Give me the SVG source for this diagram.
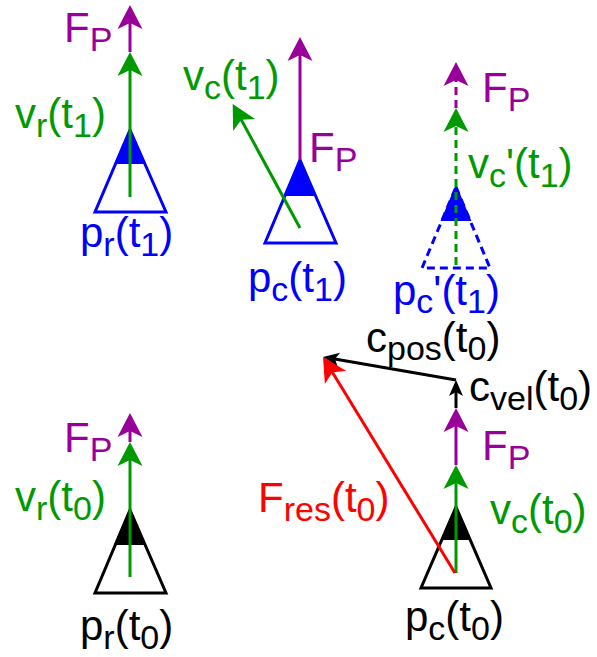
<svg xmlns="http://www.w3.org/2000/svg" width="597" height="657" viewBox="0 0 597 657">
<style>
text{font-family:"Liberation Sans",Arial,sans-serif;font-size:42px}
.sub{font-size:34px}
.g{fill:#009900}.p{fill:#990099}.b{fill:#0000ff}.k{fill:#000}.r{fill:#ff0000}
.ln{fill:none;stroke-width:3}
.dash{stroke-dasharray:8 5}
</style>
<defs>
<marker id="ag" markerUnits="userSpaceOnUse" viewBox="-26 -13 28 26" markerWidth="28" markerHeight="26" refX="-8" refY="0" orient="auto"><path d="M0,0 L-24,-12.5 L-18,0 L-24,12.5 Z" fill="#009900"/></marker>
<marker id="ap" markerUnits="userSpaceOnUse" viewBox="-26 -13 28 26" markerWidth="28" markerHeight="26" refX="-8" refY="0" orient="auto"><path d="M0,0 L-24,-12.5 L-18,0 L-24,12.5 Z" fill="#990099"/></marker>
<marker id="ar" markerUnits="userSpaceOnUse" viewBox="-26 -13 28 26" markerWidth="28" markerHeight="26" refX="-8" refY="0" orient="auto"><path d="M0,0 L-24,-12.5 L-18,0 L-24,12.5 Z" fill="#ff0000"/></marker>
<marker id="ak" markerUnits="userSpaceOnUse" viewBox="-18 -8 20 16" markerWidth="20" markerHeight="16" refX="-6" refY="0" orient="auto"><path d="M0,0 L-16,-7 L-12,0 L-16,7 Z" fill="#000"/></marker>
</defs>

<g id="robot-r-t1">
<polygon points="130,130 166,212 95,212" class="ln" stroke="#0000ff"/>
<polygon points="130,130 144.3,163 115.7,163" fill="#0000ff" stroke="#0000ff" stroke-width="2"/>
<text x="80" y="247" class="b">p<tspan class="sub" dy="9">r</tspan><tspan dy="-9">(t</tspan><tspan class="sub" dy="9">1</tspan><tspan dy="-9">)</tspan></text>
</g>

<g id="robot-c-t1">
<polygon points="300,160 336,243 265,243" class="ln" stroke="#0000ff"/>
<polygon points="300,160 314.8,195 285.2,195" fill="#0000ff" stroke="#0000ff" stroke-width="2"/>
<text x="248" y="292" class="b">p<tspan class="sub" dy="9">c</tspan><tspan dy="-9">(t</tspan><tspan class="sub" dy="9">1</tspan><tspan dy="-9">)</tspan></text>
</g>

<g id="robot-c-prime-t1">
<polygon points="456,187 490,268 422,268" class="ln dash" stroke="#0000ff"/>
<polygon points="456,187 469.9,220 442.1,220" fill="#0000ff" stroke="#0000ff" stroke-width="2"/>
<text x="393" y="305" class="b">p<tspan class="sub" dy="8">c</tspan><tspan dy="-8">'(t</tspan><tspan class="sub" dy="8">1</tspan><tspan dy="-8">)</tspan></text>
</g>

<g id="robot-r-t0">
<polygon points="130,510 166,593 95,593" class="ln" stroke="#000"/>
<polygon points="130,510 144.5,544 115.5,544" fill="#000" stroke="#000" stroke-width="2"/>
<text x="80" y="640" class="k">p<tspan class="sub" dy="9">r</tspan><tspan dy="-9">(t</tspan><tspan class="sub" dy="9">0</tspan><tspan dy="-9">)</tspan></text>
</g>

<g id="robot-c-t0">
<polygon points="456,507 491,588 421,588" class="ln" stroke="#000"/>
<polygon points="456,507 469.8,539 442.2,539" fill="#000" stroke="#000" stroke-width="2"/>
<text x="405" y="631" class="k">p<tspan class="sub" dy="9">c</tspan><tspan dy="-9">(t</tspan><tspan class="sub" dy="9">0</tspan><tspan dy="-9">)</tspan></text>
</g>

<g id="connectors">
<line x1="130" y1="52" x2="130" y2="13" class="ln" stroke="#990099" marker-end="url(#ap)"/>
<line x1="130" y1="197" x2="130" y2="60" class="ln" stroke="#009900" marker-end="url(#ag)"/>
<line x1="300" y1="160" x2="300" y2="45" class="ln" stroke="#990099" marker-end="url(#ap)"/>
<line x1="300" y1="228" x2="236.5" y2="111" class="ln" stroke="#009900" marker-end="url(#ag)"/>
<line x1="456" y1="108" x2="456" y2="70" class="ln dash" stroke="#990099" marker-end="url(#ap)"/>
<line x1="456" y1="265" x2="456" y2="116" class="ln dash" stroke="#009900" marker-end="url(#ag)"/>
<line x1="130" y1="442" x2="130" y2="421" class="ln" stroke="#990099" marker-end="url(#ap)"/>
<line x1="130" y1="577" x2="130" y2="450" class="ln" stroke="#009900" marker-end="url(#ag)"/>
<line x1="456" y1="465" x2="456" y2="416" class="ln" stroke="#990099" marker-end="url(#ap)"/>
<line x1="456" y1="573" x2="456" y2="473" class="ln" stroke="#009900" marker-end="url(#ag)"/>
<line x1="456" y1="408" x2="456" y2="386" class="ln" stroke="#000" marker-end="url(#ak)"/>
<line x1="456" y1="380" x2="329" y2="358" class="ln" stroke="#000" marker-end="url(#ak)"/>
<line x1="455" y1="573" x2="327.2" y2="363.8" class="ln" stroke="#ff0000" marker-end="url(#ar)"/>
</g>

<g id="labels">
<text x="64" y="42" class="p">F<tspan class="sub" dy="9">P</tspan></text>
<text x="15" y="128" class="g">v<tspan class="sub" dy="9">r</tspan><tspan dy="-9">(t</tspan><tspan class="sub" dy="9">1</tspan><tspan dy="-9">)</tspan></text>
<text x="183" y="90" class="g">v<tspan class="sub" dy="9">c</tspan><tspan dy="-9">(t</tspan><tspan class="sub" dy="9">1</tspan><tspan dy="-9">)</tspan></text>
<text x="309" y="162" class="p">F<tspan class="sub" dy="9">P</tspan></text>
<text x="482" y="102" class="p">F<tspan class="sub" dy="9">P</tspan></text>
<text x="468" y="178" class="g">v<tspan class="sub" dy="9">c</tspan><tspan dy="-9">'(t</tspan><tspan class="sub" dy="9">1</tspan><tspan dy="-9">)</tspan></text>
<text x="366" y="352" class="k">c<tspan class="sub" dy="8">pos</tspan><tspan dy="-8">(t</tspan><tspan class="sub" dy="8">0</tspan><tspan dy="-8">)</tspan></text>
<text x="469" y="401" class="k">c<tspan class="sub" dy="9">vel</tspan><tspan dy="-9">(t</tspan><tspan class="sub" dy="9">0</tspan><tspan dy="-9">)</tspan></text>
<text x="482" y="460" class="p">F<tspan class="sub" dy="9">P</tspan></text>
<text x="258" y="512" class="r">F<tspan class="sub" dy="9">res</tspan><tspan dy="-9">(t</tspan><tspan class="sub" dy="9">0</tspan><tspan dy="-9">)</tspan></text>
<text x="490" y="524" class="g">v<tspan class="sub" dy="9">c</tspan><tspan dy="-9">(t</tspan><tspan class="sub" dy="9">0</tspan><tspan dy="-9">)</tspan></text>
<text x="64" y="452" class="p">F<tspan class="sub" dy="9">P</tspan></text>
<text x="15" y="511" class="g">v<tspan class="sub" dy="9">r</tspan><tspan dy="-9">(t</tspan><tspan class="sub" dy="9">0</tspan><tspan dy="-9">)</tspan></text>
</g>
</svg>
